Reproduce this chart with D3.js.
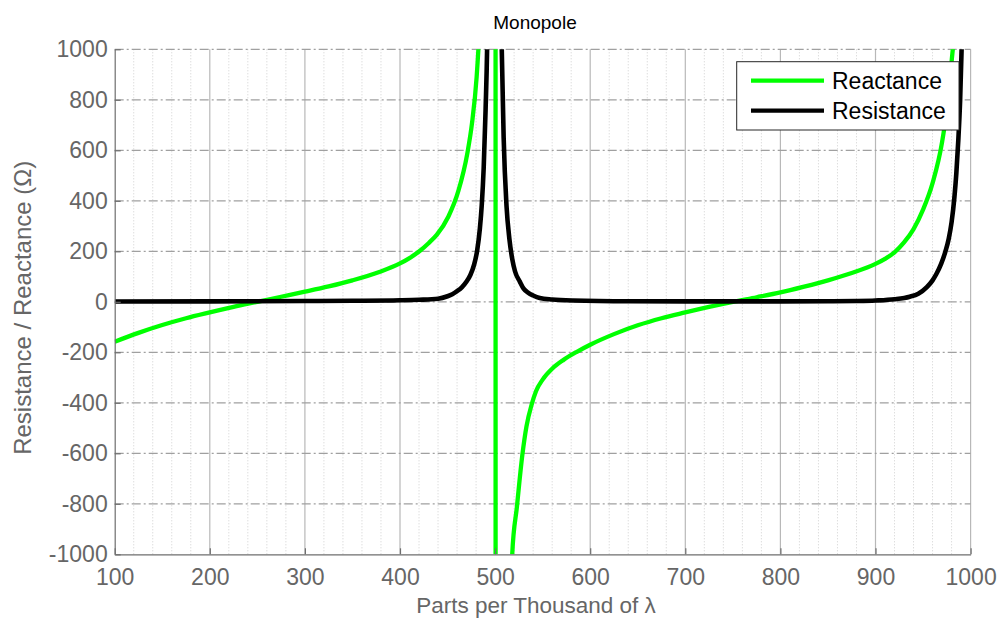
<!DOCTYPE html>
<html>
<head>
<meta charset="utf-8">
<script src="https://cdn.jsdelivr.net/npm/d3@7"></script>
<style>
  html, body { margin: 0; padding: 0; background: #fff; }
  svg { display: block; font-family: "Liberation Sans", Arial, sans-serif; }
</style>
</head>
<body>
<svg id="chart" width="1000" height="619"></svg>
<script>
// ---- data ----
const xTicks = [100, 200, 300, 400, 500, 600, 700, 800, 900, 1000];
const yTicks = [-1000, -800, -600, -400, -200, 0, 200, 400, 600, 800, 1000];

const reactanceL = [100, 125, 150, 175, 200, 225, 250, 275, 300, 325, 350, 379, 400, 410, 421, 430, 438.6, 450.8, 461.3, 470.8, 475.7, 480.6, 483, 486, 490, 495, 500,
                    501, 505, 510, 515, 518, 523, 528.6, 533, 538.5, 543, 550, 560, 572, 586, 600, 625, 650, 675, 700, 725, 750,
                    775, 800, 825, 850, 875, 900, 910, 920, 930, 940, 950, 960, 970, 975, 980, 983, 986, 990, 995, 1000];
const reactanceX = [-158, -123, -92, -65, -42, -20, 0, 20, 40, 61, 85, 119, 152, 173, 202, 232, 265, 337, 438, 588, 707, 891, 1040, 1300, 2000, 5000, 30000,
                    -30000, -6000, -2500, -1400, -1000, -810, -608, -493, -406, -354, -308, -265, -230, -198, -170, -128, -93, -65, -42, -20, 0,
                    18, 37, 60, 85, 114, 150, 170, 196, 235, 288, 365, 470, 632, 762, 950, 1100, 1500, 2500, 6000, 20000];

const resistanceL = [100, 200, 300, 350, 400, 420, 440, 450, 455, 460, 465, 470, 474, 478, 481, 484, 486, 488, 490, 492, 495, 499,
                     502, 504, 507, 509, 512, 515, 518, 521, 526, 530, 535, 540, 547, 560, 582, 642, 700, 800, 850, 880, 900, 920, 936, 945, 954, 960, 964, 969, 973, 977, 980, 983, 985, 987, 989, 991, 994, 1000];
const resistanceR = [1, 1.5, 3, 4, 6, 8, 12, 22, 30, 42, 57, 80, 106, 148, 200, 290, 385, 530, 760, 1100, 2500, 8000,
                     3000, 2000, 1000, 650, 380, 250, 170, 120, 80, 52, 35, 25, 15, 9, 5, 2, 1.5, 1.5, 2, 3, 5, 10, 20, 32, 58, 85, 110, 150, 193, 250, 315, 415, 509, 635, 800, 1060, 1700, 8000];

const seriesNames = ["Reactance", "Resistance"];
const seriesColors = ["#00ff00", "#000000"];

// ---- layout ----
const svg = d3.select("#chart");
const pL = 114.7, pR = 970.6, pT = 49.3, pB = 554.3;

const x = d3.scaleLinear().domain([100, 1000]).range([pL, pR]);
const y = d3.scaleLinear().domain([-1000, 1000]).range([pB, pT]);

const textGray = "#666666";

// minor vertical grid (dotted)
const minor = d3.range(120, 1000, 20).filter(v => v % 100 !== 0);
svg.append("g").selectAll("line").data(minor).join("line")
  .attr("x1", d => x(d)).attr("x2", d => x(d))
  .attr("y1", pT).attr("y2", pB)
  .attr("stroke", "#cfcfcf").attr("stroke-width", 1)
  .attr("stroke-dasharray", "1,2");

// major vertical grid (solid)
svg.append("g").selectAll("line").data(xTicks.slice(1)).join("line")
  .attr("x1", d => x(d)).attr("x2", d => x(d))
  .attr("y1", pT).attr("y2", pB)
  .attr("stroke", "#b8b8b8").attr("stroke-width", 1.2);

// major horizontal grid (dash-dot)
svg.append("g").selectAll("line").data(yTicks.slice(1)).join("line")
  .attr("x1", pL).attr("x2", pR)
  .attr("y1", d => y(d)).attr("y2", d => y(d))
  .attr("stroke", "#a0a0a0").attr("stroke-width", 1.2)
  .attr("stroke-dasharray", "9,3,2,3");

// clip
svg.append("defs").append("clipPath").attr("id", "clip")
  .append("rect").attr("x", pL).attr("y", pT)
  .attr("width", pR - pL).attr("height", pB - pT);

const line = d3.line().x(d => x(d[0])).y(d => y(d[1])).curve(d3.curveMonotoneX);

const reactance = reactanceL.map((l, i) => [l, reactanceX[i]]);
const resistance = resistanceL.map((l, i) => [l, resistanceR[i]]);

const plot = svg.append("g").attr("clip-path", "url(#clip)");
plot.append("path").datum(reactance).attr("d", line)
  .attr("fill", "none").attr("stroke", seriesColors[0]).attr("stroke-width", 4.3)
  .attr("stroke-linejoin", "round");
plot.append("path").datum(resistance).attr("d", line)
  .attr("fill", "none").attr("stroke", seriesColors[1]).attr("stroke-width", 4.6)
  .attr("stroke-linejoin", "round");

// axes
const fmt = d => String(d);
const xAxis = d3.axisBottom(x).tickValues(xTicks).tickFormat(fmt).tickSizeInner(-6).tickSizeOuter(0).tickPadding(8);
const yAxis = d3.axisLeft(y).tickValues(yTicks).tickFormat(fmt).tickSizeInner(-6).tickSizeOuter(0).tickPadding(8);

const gx = svg.append("g").attr("transform", `translate(0,${pB})`).call(xAxis);
const gy = svg.append("g").attr("transform", `translate(${pL},0)`).call(yAxis);

[gx, gy].forEach(g => {
  g.select(".domain").attr("stroke", "#6e6e6e").attr("stroke-width", 1.2);
  g.selectAll(".tick line").attr("stroke", "#6e6e6e").attr("stroke-width", 1.2);
  g.selectAll(".tick text").attr("fill", textGray)
    .style("font-size", "23px").style("font-family", "'Liberation Sans', Arial, sans-serif");
});
gx.selectAll(".tick text").attr("dy", "0.71em").attr("y", 14);
gy.selectAll(".tick text").attr("x", -7);

// title
svg.append("text").attr("x", 535).attr("y", 29).attr("text-anchor", "middle")
  .attr("fill", "#000").style("font-size", "19px").text("Monopole");

// axis labels
svg.append("text").attr("x", 536).attr("y", 613).attr("text-anchor", "middle")
  .attr("fill", textGray).style("font-size", "22.5px").text("Parts per Thousand of λ");

svg.append("text").attr("transform", `translate(31,${(pT + pB) / 2 + 6}) rotate(-90)`)
  .attr("text-anchor", "middle")
  .attr("fill", textGray).style("font-size", "24px").text("Resistance / Reactance (Ω)");

// legend
const lg = svg.append("g");
lg.append("rect").attr("x", 736.7).attr("y", 61.7).attr("width", 222.3).attr("height", 68.3)
  .attr("fill", "#fff").attr("stroke", "#262626").attr("stroke-width", 1);
seriesNames.forEach((name, i) => {
  const cy = 80.7 + i * 30;
  lg.append("line").attr("x1", 751).attr("x2", 824).attr("y1", cy).attr("y2", cy)
    .attr("stroke", seriesColors[i]).attr("stroke-width", 4.3);
  lg.append("text").attr("x", 832).attr("y", cy + 8.3).attr("fill", "#000")
    .style("font-size", "23px").text(name);
});
</script>
</body>
</html>
